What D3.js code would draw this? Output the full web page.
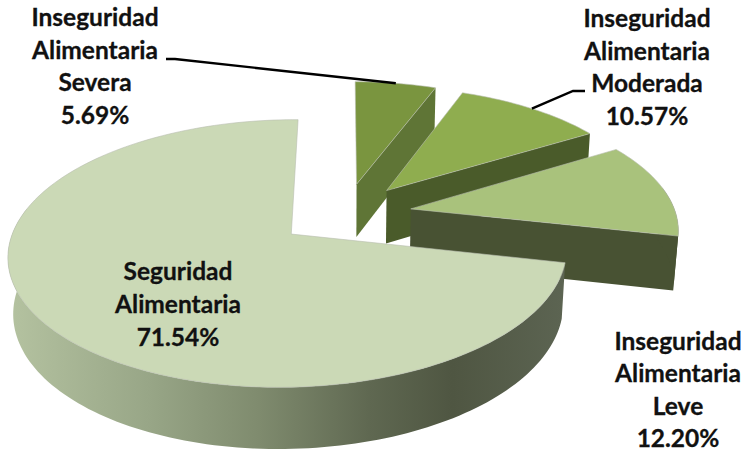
<!DOCTYPE html>
<html>
<head>
<meta charset="utf-8">
<script src="https://cdn.jsdelivr.net/npm/d3@7"></script>
<style>
	html, body { margin: 0; padding: 0; background: #fff; }
	text { font-family: Lato, "Open Sans", sans-serif; font-weight: 700; fill: #111; stroke: #111; stroke-width: 0.3px; }
</style>
</head>
<body>
<div id="chart"></div>
<script>
const categories = ["Inseguridad Alimentaria Severa", "Inseguridad Alimentaria Moderada", "Inseguridad Alimentaria Leve", "Seguridad Alimentaria"];
const values = [5.69, 10.57, 12.20, 71.54];
const topColors = ["#7a953f", "#8fad4f", "#a9c27c", "#cbd9b6"];
const sideColors = ["#5f7536", "#4a5b2a", "#485233", "url(#wallGrad)"];
const labelLines = [
	["Inseguridad", "Alimentaria", "Severa"],
	["Inseguridad", "Alimentaria", "Moderada"],
	["Inseguridad", "Alimentaria", "Leve"],
	["Seguridad", "Alimentaria"]
];
const labelPos = [[95, 26], [647, 27], [678, 350], [178, 280]];
const labelStep = [32.5, 32.5, 32.3, 33];
const leaderElbows = [[[175, 59], [166, 59]], [[573, 91], [585, 91]], [], []];
const wallStops = [
	[0, "#b4c2a0"], [0.25, "#98a687"], [0.45, "#7f8b6e"], [0.65, "#5f6851"],
	[0.8, "#4f5642"], [1, "#5c6452"]
];

const W = 747, H = 449;
const fontSize = 24.5;

// plane of the pie -> screen, a small homography gives the perspective
const cx = 345, cy = 214, rx = 269, ry = 125;
const persp = 0.1417, perspX = 0.01, perspZ = 0.015;
const depth = 55, explode = 0.25;

function project(u, v, z) {
	const w = 1 + persp * v + perspX * u + perspZ * z;
	return [cx + rx * u / w, cy - ry * v / w + depth * z / w];
}

const pie = d3.pie().sort(null).value(d => d).startAngle(0).endAngle(2 * Math.PI);
const slices = pie(values);

const line = d3.line();

function offset(d) {
	const mid = (d.startAngle + d.endAngle) / 2;
	return [explode * Math.sin(mid), explode * Math.cos(mid)];
}

function rimPoint(d, a, z) {
	const o = offset(d);
	return project(o[0] + Math.sin(a), o[1] + Math.cos(a), z);
}

function apex(d, z) {
	const o = offset(d);
	return project(o[0], o[1], z);
}

function arcAngles(d) {
	const n = Math.ceil((d.endAngle - d.startAngle) * 40);
	return d3.range(n + 1).map(i => d.startAngle + (d.endAngle - d.startAngle) * i / n);
}

function arcPoints(d, z) {
	return arcAngles(d).map(a => rimPoint(d, a, z));
}

// only the near part of the rim has a wall that shows
function wallPoints(d, z) {
	return arcAngles(d).filter(a => Math.cos(a) < 0.2).map(a => rimPoint(d, a, z));
}

const svg = d3.select("#chart").append("svg")
	.attr("width", W)
	.attr("height", H)
	.style("display", "block");

const grad = svg.append("defs").append("linearGradient")
	.attr("id", "wallGrad")
	.attr("gradientUnits", "userSpaceOnUse")
	.attr("x1", 10).attr("x2", 563)
	.attr("y1", 0).attr("y2", 0);

grad.selectAll("stop")
	.data(wallStops)
	.enter()
	.append("stop")
	.attr("offset", d => d[0])
	.attr("stop-color", d => d[1]);

const nodes = svg.selectAll(".slice")
	.data(slices)
	.enter()
	.append("g")
	.attr("class", "slice");

// cut face at the end of the slice
nodes.filter(d => d.endAngle < 2 * Math.PI - 0.001)
	.append("path")
	.attr("d", d => line([apex(d, 0), rimPoint(d, d.endAngle, 0), rimPoint(d, d.endAngle, 1), apex(d, 1)]) + "Z")
	.style("fill", d => sideColors[d.index]);

// outer wall
nodes.filter(d => wallPoints(d, 0).length > 0)
	.append("path")
	.attr("d", d => line(wallPoints(d, 0).concat(wallPoints(d, 1).reverse())) + "Z")
	.style("fill", d => sideColors[d.index]);

// top
nodes.append("path")
	.attr("d", d => line([apex(d, 0)].concat(arcPoints(d, 0))) + "Z")
	.style("fill", d => topColors[d.index])
	.style("stroke", "#b9bdb0")
	.style("stroke-width", 0.6);

// leader lines
svg.selectAll(".leader")
	.data(slices.filter((d, i) => leaderElbows[i].length))
	.enter()
	.append("path")
	.attr("class", "leader")
	.attr("d", d => {
		const mid = (d.startAngle + d.endAngle) / 2;
		return line([rimPoint(d, mid, 0)].concat(leaderElbows[d.index]));
	})
	.style("fill", "none")
	.style("stroke", "#000")
	.style("stroke-width", 2.4);

const labels = svg.selectAll(".label")
	.data(slices)
	.enter()
	.append("text")
	.attr("class", "label")
	.attr("text-anchor", "middle")
	.attr("font-size", fontSize);

labels.selectAll("tspan")
	.data(d => labelLines[d.index].concat(d3.format(".2f")(d.value) + "%").map(t => ({t: t, i: d.index})))
	.enter()
	.append("tspan")
	.attr("x", d => labelPos[d.i][0])
	.attr("y", (d, j) => labelPos[d.i][1] + j * labelStep[d.i])
	.text(d => d.t);
</script>
</body>
</html>
